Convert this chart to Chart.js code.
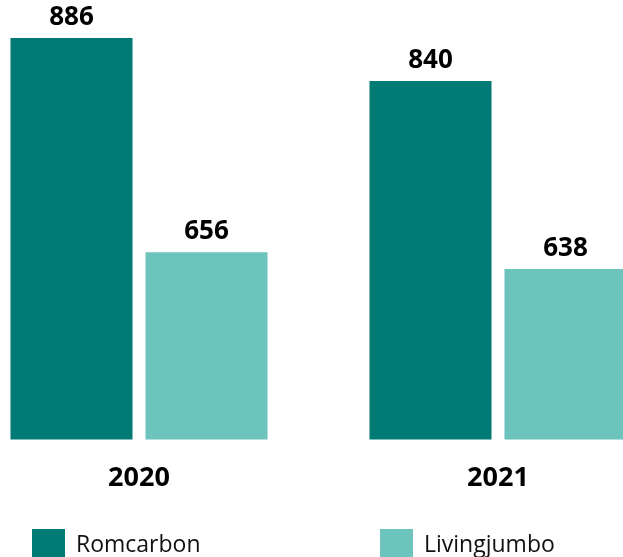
<!DOCTYPE html>
<html>
<head>
<meta charset="utf-8">
<script src="https://cdn.jsdelivr.net/npm/chart.js@4"></script>
<style>
    html, body { margin: 0; padding: 0; background: #fff; }
    #wrap { position: relative; width: 623px; height: 557px; overflow: hidden; }
    #chart { position: absolute; left: 0; top: 0; }
    .legend-item {
        position: absolute; top: 529px; display: flex; align-items: flex-start;
        font-family: 'Open Sans', sans-serif; font-size: 23px; line-height: 28px; color: #111;
        white-space: nowrap;
    }
    .legend-item .swatch { width: 33px; height: 28px; margin-right: 11px; }
</style>
</head>
<body>
<div id="wrap">
    <canvas id="chart" width="623" height="557"></canvas>
    <div id="legend"></div>
</div>
<script>
// Data
const years = ['2020', '2021'];
const seriesNames = ['Romcarbon', 'Livingjumbo'];
const romcarbon = [886, 840];
const livingjumbo = [656, 638];
const seriesColors = ['#007a74', '#6cc4bc'];

// Draws the bold value above each bar
const valueLabels = {
    id: 'valueLabels',
    afterDatasetsDraw(chart) {
        const ctx = chart.ctx;
        ctx.save();
        ctx.font = "bold 26px 'Open Sans', sans-serif";
        ctx.fillStyle = '#000';
        ctx.textAlign = 'center';
        ctx.textBaseline = 'alphabetic';
        chart.data.datasets.forEach((ds, i) => {
            chart.getDatasetMeta(i).data.forEach((bar, j) => {
                ctx.fillText(ds.data[j], bar.x, bar.y - 13);
            });
        });
        ctx.restore();
    }
};

Chart.defaults.font.family = "'Open Sans', sans-serif";

// bars sit outside the chart area sideways, so only clip at the bottom
const barClip = { left: 200, right: 200, top: 40, bottom: 0 };

const chart = new Chart(document.getElementById('chart'), {
    type: 'bar',
    data: {
        labels: years,
        datasets: [
            { label: seriesNames[0], data: romcarbon, backgroundColor: seriesColors[0], barPercentage: 0.904, categoryPercentage: 0.752, clip: barClip },
            { label: seriesNames[1], data: livingjumbo, backgroundColor: seriesColors[1], barPercentage: 0.904, categoryPercentage: 0.752, clip: barClip }
        ]
    },
    options: {
        responsive: false,
        animation: false,
        layout: { padding: { left: 139, right: 125, top: 25, bottom: 39 } },
        scales: {
            x: {
                offset: false,
                grid: { display: false, drawTicks: false },
                border: { display: false },
                ticks: { color: '#000', padding: 23, font: { size: 27, weight: 'bold' } }
            },
            y: {
                display: false,
                min: 455,
                max: 900
            }
        },
        plugins: {
            legend: { display: false },
            tooltip: { enabled: false }
        }
    },
    plugins: [valueLabels]
});

// HTML legend built from the series arrays
const legendLefts = [32, 380];
const legend = document.getElementById('legend');
seriesNames.forEach((name, i) => {
    const item = document.createElement('div');
    item.className = 'legend-item';
    item.style.left = legendLefts[i] + 'px';
    item.innerHTML = `<span class="swatch" style="background:${seriesColors[i]}"></span><span>${name}</span>`;
    legend.appendChild(item);
});
</script>
</body>
</html>
